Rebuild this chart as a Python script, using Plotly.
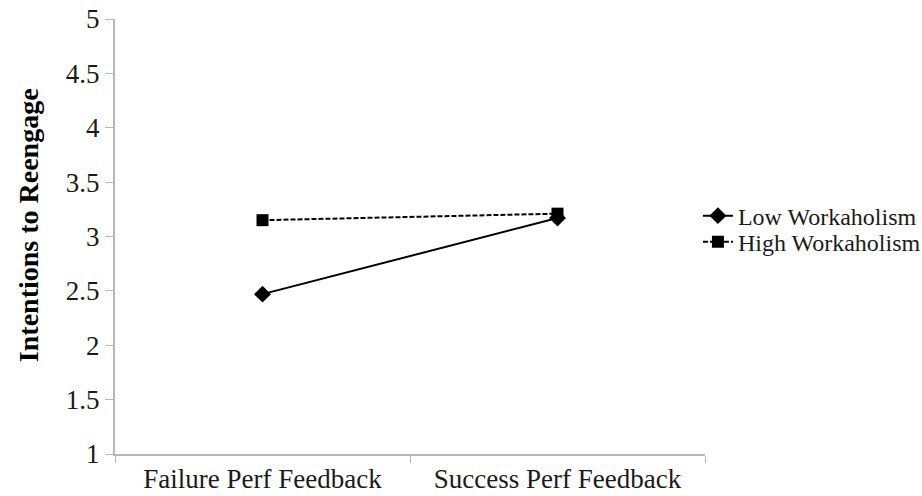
import plotly.graph_objects as go

conditions = ["Failure Perf Feedback", "Success Perf Feedback"]
low_workaholism = [2.47, 3.17]
high_workaholism = [3.15, 3.21]
y_ticks = [1, 1.5, 2, 2.5, 3, 3.5, 4, 4.5, 5]

serif = "Liberation Serif, Times New Roman, serif"
axis_grey = "#b8b8b8"
text_col = "#1a1a1a"

fig = go.Figure()
fig.add_trace(go.Scatter(
    x=conditions, y=low_workaholism, name="Low Workaholism",
    mode="lines+markers",
    line=dict(color="black", width=2, dash="solid"),
    marker=dict(symbol="diamond", size=13, color="black"),
    legend="legend",
))
fig.add_trace(go.Scatter(
    x=conditions, y=high_workaholism, name="High Workaholism",
    mode="lines+markers",
    line=dict(color="black", width=2, dash="5px,2px"),
    marker=dict(symbol="square", size=12, color="black"),
    legend="legend2",
))

legend_style = dict(
    x=0.988, xanchor="left", yanchor="middle",
    font=dict(family=serif, size=24, color=text_col),
    itemwidth=30, bgcolor="rgba(0,0,0,0)",
)

fig.update_layout(
    width=922, height=496,
    margin=dict(l=115, r=217, t=19, b=42, autoexpand=False),
    paper_bgcolor="white", plot_bgcolor="white",
    font=dict(family=serif, size=27, color=text_col),
    showlegend=True,
    legend=dict(y=0.547, **legend_style),
    legend2=dict(y=0.487, **legend_style),
    xaxis=dict(
        type="category", range=[-0.5, 1.5], automargin=False,
        showline=True, linecolor=axis_grey, linewidth=2,
        ticks="outside", tickson="boundaries", ticklen=7, tickcolor=axis_grey,
        showgrid=False, zeroline=False,
        tickfont=dict(family=serif, size=27, color=text_col),
    ),
    yaxis=dict(
        range=[1, 5], tickvals=y_ticks, automargin=False,
        ticktext=[f"{v:g}" for v in y_ticks],
        showline=True, linecolor=axis_grey, linewidth=2,
        ticks="outside", ticklen=8, tickcolor=axis_grey,
        showgrid=False, zeroline=False,
        tickfont=dict(family=serif, size=27, color=text_col),
    ),
    annotations=[dict(
        text="<b>Intentions to Reengage</b>",
        xref="paper", yref="paper", x=-0.1475, y=0.526,
        xanchor="center", yanchor="middle", textangle=-90,
        showarrow=False,
        font=dict(family=serif, size=28, color="black"),
    )],
)

fig.write_html("out.html")
